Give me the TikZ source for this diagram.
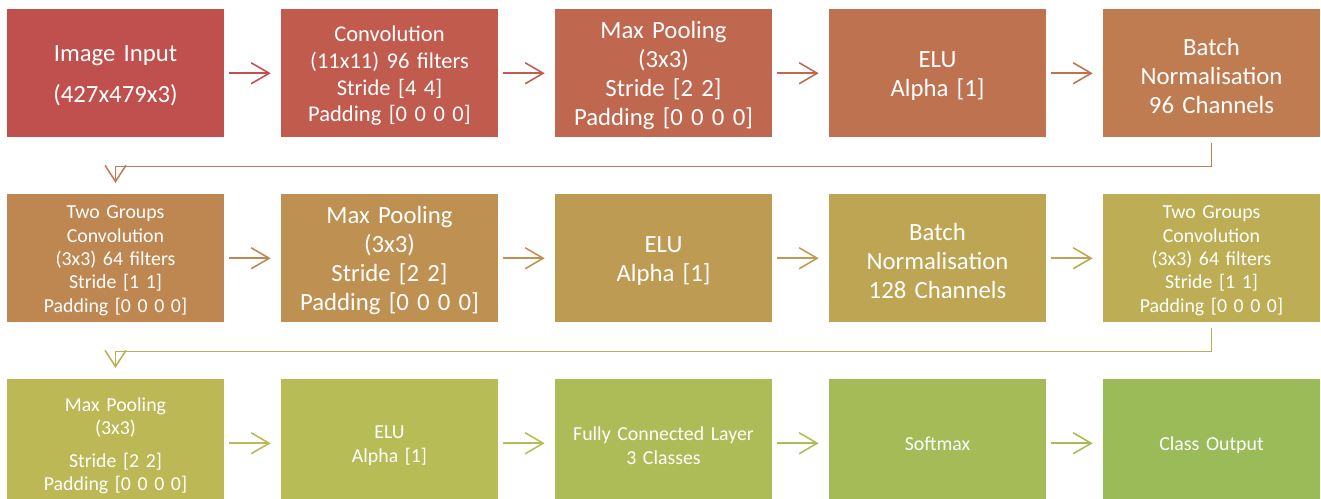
\documentclass[tikz,border=0pt]{standalone}
\usepackage{fontspec}
\setmainfont{Carlito}
\usetikzlibrary{arrows.meta,positioning}
\definecolor{tintA}{HTML}{C0504D}
\definecolor{tintB}{HTML}{C05B4E}
\definecolor{tintC}{HTML}{BF674F}
\definecolor{tintD}{HTML}{BF7250}
\definecolor{tintE}{HTML}{BF7C50}
\definecolor{tintF}{HTML}{BE8751}
\definecolor{tintG}{HTML}{BE9152}
\definecolor{tintH}{HTML}{BE9B53}
\definecolor{tintI}{HTML}{BDA554}
\definecolor{tintJ}{HTML}{BDAE55}
\definecolor{tintK}{HTML}{BCB856}
\definecolor{tintL}{HTML}{B7BC56}
\definecolor{tintM}{HTML}{AEBC57}
\definecolor{tintN}{HTML}{A4BB58}
\definecolor{tintO}{HTML}{9BBB59}

\begin{document}
\begin{tikzpicture}[x=0.025cm,y=-0.025cm,
box/.style={fill=#1,text=white,minimum width=5.425cm,minimum height=3.1875cm,text width=5.2cm,align=center,inner sep=0pt,execute at end node={\endgraf\vspace*{-3.6pt}}},
bigtext/.style={font=\fontsize{17.6}{20.6}\selectfont},
midtext/.style={font=\fontsize{16}{19}\selectfont},
smalltext/.style={font=\fontsize{14.1}{16.7}\selectfont},
arrow/.style={-{Straight Barb[length=12.8pt,width=14.9pt]},line width=1.1pt,draw=#1,shorten <=3.6pt,shorten >=7.1pt},
turn/.style={-{Straight Barb[length=11.5pt,width=14.9pt]},line width=1.1pt,draw=#1,shorten <=4.3pt,shorten >=8pt}]
\useasboundingbox (0,0) rectangle (1321,499);
\clip (0,0) rectangle (1321,499);

\node[box=tintA,bigtext] (input) at (115.5,73.25) {Image Input\\[9.2pt](427x479x3)};
\node[box=tintB,midtext] (conv) at (389.5,73.25) {Convolution\\(11x11) 96 filters\\Stride [4 4]\\Padding [0 0 0 0]};
\node[box=tintC,bigtext] (pool) at (663.5,73.25) {Max Pooling\\(3x3)\\Stride [2 2]\\Padding [0 0 0 0]};
\node[box=tintD,bigtext] (elu) at (937.5,73.25) {ELU\\Alpha [1]};
\node[box=tintE,bigtext] (bnorm) at (1211.5,73.25) {Batch\\Normalisation\\96 Channels};

\node[box=tintF,smalltext] (gconv) at (115.5,258.25) {Two Groups\\Convolution\\(3x3) 64 filters\\Stride [1 1]\\Padding [0 0 0 0]};
\node[box=tintG,bigtext] (pooltwo) at (389.5,258.25) {Max Pooling\\(3x3)\\Stride [2 2]\\Padding [0 0 0 0]};
\node[box=tintH,bigtext] (elutwo) at (663.5,258.25) {ELU\\Alpha [1]};
\node[box=tintI,bigtext] (bnormtwo) at (937.5,258.25) {Batch\\Normalisation\\128 Channels};
\node[box=tintJ,smalltext] (gconvtwo) at (1211.5,258.25) {Two Groups\\Convolution\\(3x3) 64 filters\\Stride [1 1]\\Padding [0 0 0 0]};

\node[box=tintK,smalltext] (poolthree) at (115.5,443.25) {Max Pooling\\(3x3)\\[6.4pt]Stride [2 2]\\Padding [0 0 0 0]};
\node[box=tintL,smalltext] (eluthree) at (389.5,443.25) {ELU\\Alpha [1]};
\node[box=tintM,smalltext] (fc) at (663.5,443.25) {Fully Connected Layer\\3 Classes};
\node[box=tintN,smalltext] (softmax) at (937.5,443.25) {Softmax};
\node[box=tintO,smalltext] (output) at (1211.5,443.25) {Class Output};

\draw[arrow=tintA] (input)--(conv);
\draw[arrow=tintB] (conv)--(pool);
\draw[arrow=tintC] (pool)--(elu);
\draw[arrow=tintD] (elu)--(bnorm);
\draw[turn=tintE] (bnorm.south)--++(0,29)-|(gconv.north);
\draw[arrow=tintF] (gconv)--(pooltwo);
\draw[arrow=tintG] (pooltwo)--(elutwo);
\draw[arrow=tintH] (elutwo)--(bnormtwo);
\draw[arrow=tintI] (bnormtwo)--(gconvtwo);
\draw[turn=tintJ] (gconvtwo.south)--++(0,29)-|(poolthree.north);
\draw[arrow=tintK] (poolthree)--(eluthree);
\draw[arrow=tintL] (eluthree)--(fc);
\draw[arrow=tintM] (fc)--(softmax);
\draw[arrow=tintN] (softmax)--(output);
\end{tikzpicture}
\end{document}
